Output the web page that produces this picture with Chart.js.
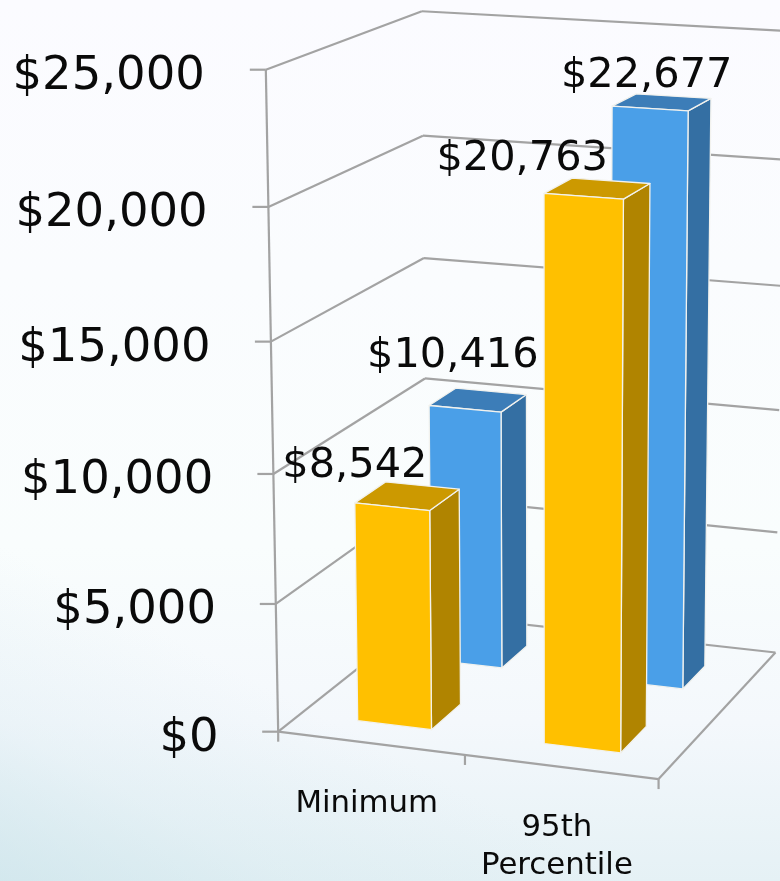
<!DOCTYPE html>
<html>
<head>
<meta charset="utf-8">
<script src="https://cdn.jsdelivr.net/npm/chart.js@4"></script>
<style>
html,body{margin:0;padding:0;width:780px;height:881px;overflow:hidden;
background:
 linear-gradient(208deg, rgba(200,226,233,0) 74%, rgba(200,226,233,.22) 88%, rgba(200,226,233,.62) 100%),
 linear-gradient(180deg, #fbfbff 0%, #f9fdfd 62%, #f4f8fc 82%, #e5f1f5 100%);}
canvas{display:block}
</style>
</head>
<body>
<canvas id="c" width="780" height="881"></canvas>
<script>
const categories = ['Minimum', ['95th', 'Percentile']];
const goldValues = [8542, 20763];
const blueValues = [10416, 22677];
const axisMax = 25000;
const axisStep = 5000;

const money = v => '$' + Number(v).toLocaleString('en-US');

/* camera calibration: box position (across, depth, height) -> page position */
const anchors = [
  [0,0,0,279,729],[0,0,.2,276,603],[0,0,.4,273,474],[0,0,.6,270,342],[0,0,.8,268,207],[0,0,1,266,70],
  [0,1,0,427,617],[0,1,.2,426,498],[0,1,.4,425,377],[0,1,.6,424,257],[0,1,.8,423,135],[0,1,1,422,12],
  [1,1,0,775,650],[1,1,.2,777,532],[1,1,.4,779,410],[1,1,.6,781,286],[1,1,.8,783,160],[1,1,1,786,31],
  [1,0,0,659,781],[.5,0,0,465,756]
];
function solveCamera(pts){
  const n=11, A=Array.from({length:n},()=>new Array(n+1).fill(0));
  const add=(r,b)=>{for(let i=0;i<n;i++){for(let j=0;j<n;j++)A[i][j]+=r[i]*r[j];A[i][n]+=r[i]*b;}};
  for(const [u,v,w,x,y] of pts){
    const X=x/1000,Y=y/1000;
    add([u,v,w,1,0,0,0,0,-X*u,-X*v,-X*w],X);
    add([0,0,0,0,u,v,w,1,-Y*u,-Y*v,-Y*w],Y);
  }
  for(let i=0;i<n;i++){
    let p=i;for(let k=i+1;k<n;k++)if(Math.abs(A[k][i])>Math.abs(A[p][i]))p=k;
    [A[i],A[p]]=[A[p],A[i]];
    for(let k=0;k<n;k++){if(k===i)continue;const f=A[k][i]/A[i][i];for(let j=i;j<=n;j++)A[k][j]-=f*A[i][j];}
  }
  return A.map((r,i)=>r[n]/r[i]);
}
const cam = solveCamera(anchors);
function project(u,v,w){
  const d=cam[8]*u+cam[9]*v+cam[10]*w+1;
  return [1000*(cam[0]*u+cam[1]*v+cam[2]*w+cam[3])/d, 1000*(cam[4]*u+cam[5]*v+cam[6]*w+cam[7])/d];
}

function poly(ctx,pts,fill,stroke){
  ctx.beginPath();
  pts.forEach((p,i)=>i?ctx.lineTo(p[0],p[1]):ctx.moveTo(p[0],p[1]));
  ctx.closePath();
  if(fill){ctx.fillStyle=fill;ctx.fill();}
  if(stroke){ctx.strokeStyle=stroke;ctx.lineWidth=1.3;ctx.lineJoin='round';ctx.stroke();}
}

const BAR_SHIFT=.006;
/* bar controller: keeps the library's bar geometry, paints each bar as a projected box */
class Bar3D extends Chart.BarController {
  draw(){
    const ctx=this.chart.ctx, area=this.chart.chartArea, ds=this.getDataset();
    const [v0,v1]=ds.depth;
    this._cachedMeta.data.forEach(el=>{
      const u0=BAR_SHIFT+(el.x-el.width/2-area.left)/area.width, u1=BAR_SHIFT+(el.x+el.width/2-area.left)/area.width;
      const w0=(area.bottom-el.base)/area.height, w1=(area.bottom-el.y)/area.height;
      poly(ctx,[project(u1,v0,w0),project(u1,v1,w0),project(u1,v1,w1),project(u1,v0,w1)],ds.sideColor,ds.edgeColor);
      poly(ctx,[project(u0,v0,w1),project(u1,v0,w1),project(u1,v1,w1),project(u0,v1,w1)],ds.topColor,ds.edgeColor);
      poly(ctx,[project(u0,v0,w0),project(u1,v0,w0),project(u1,v0,w1),project(u0,v0,w1)],ds.backgroundColor,ds.edgeColor);
    });
  }
}
Bar3D.id='bar3d';
Bar3D.defaults=Chart.BarController.defaults;
Bar3D.overrides=Chart.BarController.overrides;
Chart.register(Bar3D);

const GRID='#a3a3a3', INK='#0a0a0a', FONT='"DejaVu Sans"';
function seg(ctx,a,b){ctx.beginPath();ctx.moveTo(a[0],a[1]);ctx.lineTo(b[0],b[1]);ctx.stroke();}

const box3d={
  id:'box3d',
  beforeDatasetsDraw(chart){
    const ctx=chart.ctx, y=chart.scales.y, a=chart.chartArea;
    ctx.save();
    ctx.strokeStyle=GRID;ctx.lineWidth=2.2;ctx.lineCap='butt';
    y.ticks.forEach(t=>{
      const w=(a.bottom-y.getPixelForValue(t.value))/a.height;
      const f=project(0,0,w), b=project(0,1,w), r=project(1,1,w);
      seg(ctx,f,b);seg(ctx,b,r);
      seg(ctx,f,[f[0]-16,f[1]]);
    });
    seg(ctx,project(0,0,0),project(0,0,1));
    seg(ctx,project(0,0,0),project(1,0,0));
    seg(ctx,project(1,0,0),project(1,1,0));
    [0,.5,1].forEach(u=>{const p=project(u,0,0);seg(ctx,p,[p[0],p[1]+10]);});
    ctx.restore();
  },
  afterDatasetsDraw(chart){
    const ctx=chart.ctx, y=chart.scales.y, x=chart.scales.x, a=chart.chartArea;
    ctx.save();
    ctx.fillStyle=INK;ctx.textBaseline='middle';
    ctx.font='46.5px '+FONT;ctx.textAlign='right';
    y.ticks.forEach(t=>{
      const w=(a.bottom-y.getPixelForValue(t.value))/a.height, f=project(0,0,w);
      ctx.fillText(money(t.value),f[0]-59.5-1.5*w,f[1]+7);
    });
    ctx.font='30.8px '+FONT;ctx.textAlign='center';
    categories.forEach((c,i)=>{
      const u=(x.getPixelForValue(i)-a.left)/a.width, p=project(u,0,0);
      [].concat(c).forEach((line,k)=>ctx.fillText(line,p[0]-4,p[1]+61+k*38));
    });
    ctx.font='41.5px '+FONT;
    chart.data.datasets.forEach((ds,di)=>{
      chart.getDatasetMeta(di).data.forEach((el,i)=>{
        const u=(el.x-a.left)/a.width, w=(a.bottom-el.y)/a.height, p=project(u,ds.depth[0],w), n=ds.labelNudge[i];
        ctx.fillText(money(ds.data[i]),p[0]+n[0],p[1]+n[1]);
      });
    });
    ctx.restore();
  }
};

new Chart(document.getElementById('c'),{
  type:'bar3d',
  plugins:[box3d],
  data:{
    labels:categories,
    datasets:[
      {label:'Gold',data:goldValues,backgroundColor:'#ffc000',topColor:'#cc9900',sideColor:'#b08400',edgeColor:'#f2f2ee',
       depth:[.14,.34],labelNudge:[[-35,-40],[-59,-37]]},
      {label:'Blue',data:blueValues,backgroundColor:'#4a9fe8',topColor:'#3c7db8',sideColor:'#346fa3',edgeColor:'#f2f2ee',
       depth:[.64,.83],labelNudge:[[-10,-52],[-1,-32]]}
    ]
  },
  options:{
    responsive:false,animation:false,
    events:[],
    layout:{padding:0},
    plugins:{legend:{display:false},tooltip:{enabled:false},title:{display:false}},
    grouped:false,categoryPercentage:1,barPercentage:.4,
    scales:{
      x:{type:'category',display:false,offset:true},
      y:{type:'linear',display:false,min:0,max:axisMax,ticks:{stepSize:axisStep}}
    }
  }
});
</script>
</body>
</html>
